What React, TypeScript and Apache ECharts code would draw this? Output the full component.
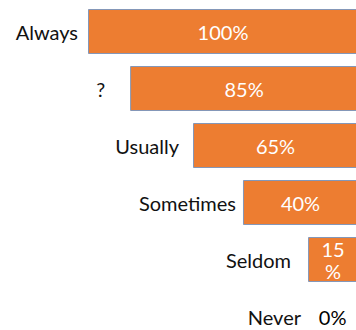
import React, { useEffect, useRef } from "react";
import * as echarts from "echarts";

// Categories, top to bottom
const categories = ["Always", "?", "Usually", "Sometimes", "Seldom", "Never"];
// Percentages printed on the bars
const percentages = [100, 85, 65, 40, 15, 0];
// Drawn bar lengths (axis 0–100, bars grow from the right)
const barLengths = [100, 84.4, 61.1, 42.6, 18.5, 0];

const FONT = "Lato";
const ORANGE = "#ED7D31";
// label spacing (style): gap between each category name and its bar
const NAME_GAPS = [10, 25, 14, 7, 17, 57];

export default function App() {
  const ref = useRef<HTMLDivElement>(null);
  useEffect(() => {
    if (!ref.current) return;
    const chart = echarts.init(ref.current, undefined, { renderer: "svg" });
    const spacer = barLengths.map((l, i) => ({
      value: 100 - l,
      label: { distance: NAME_GAPS[i] },
    }));
    const bars = barLengths.map((l) => {
      const item: any = { value: l };
      if (l === 0) {
        item.label = { position: "left", distance: 11, color: "#000" };
      } else if (l < 25) {
        item.label = { width: 26, overflow: "breakAll", lineHeight: 22 };
      }
      return item;
    });
    chart.setOption({
      animation: false,
      grid: {
        left: 88,
        right: -2,
        top: 3,
        height: 342,
        containLabel: false,
        outerBoundsMode: "none",
      },
      xAxis: { type: "value", min: 0, max: 100, show: false },
      yAxis: { type: "category", data: categories, inverse: true, show: false },
      series: [
        {
          type: "bar",
          stack: "s",
          data: spacer,
          barWidth: 45,
          itemStyle: { color: "transparent" },
          silent: true,
          label: {
            show: true,
            position: "insideRight",
            distance: 11,
            formatter: (p: any) => categories[p.dataIndex],
            color: "#111",
            fontFamily: FONT,
            fontSize: 20,
          },
        },
        {
          type: "bar",
          stack: "s",
          data: bars,
          barWidth: 45,
          itemStyle: { color: ORANGE, borderColor: "#8497B8", borderWidth: 1 },
          label: {
            show: true,
            position: "inside",
            formatter: (p: any) => percentages[p.dataIndex] + "%",
            color: "#fff",
            fontFamily: FONT,
            fontSize: 20,
          },
        },
      ],
    });
    return () => chart.dispose();
  }, []);
  return (
    <div
      ref={ref}
      style={{ position: "absolute", left: 0, top: 0, width: 356, height: 330 }}
    />
  );
}
